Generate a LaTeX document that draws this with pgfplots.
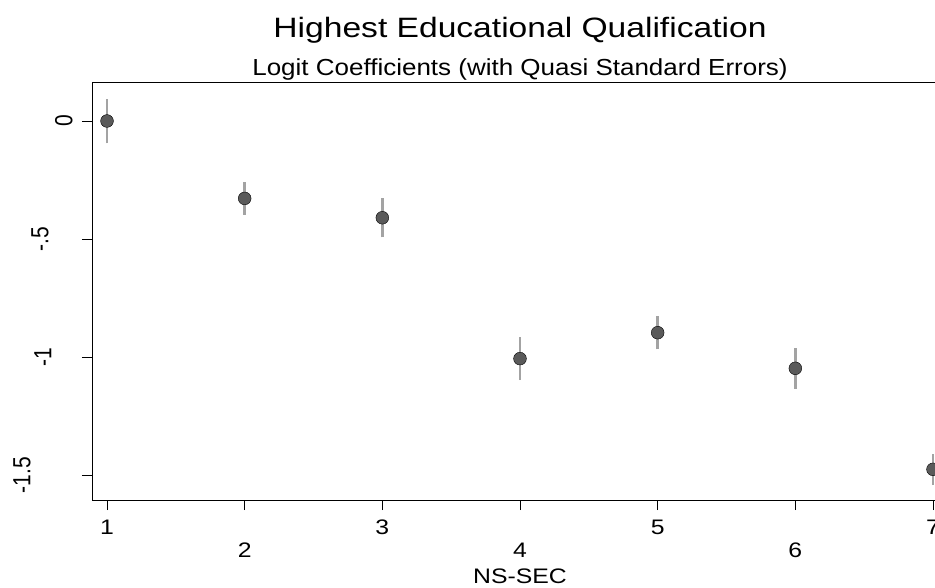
\documentclass[border=0pt]{standalone}
\usepackage{fontspec}
\setmainfont{Liberation Sans}
\newfontfamily\fTitle[FakeStretch=1.2]{Liberation Sans}
\newfontfamily\fSub[FakeStretch=1.12]{Liberation Sans}
\newfontfamily\fTick[FakeStretch=1.18]{Liberation Sans}
\usepackage{pgfplots}
\pgfplotsset{compat=1.18}
\definecolor{markgray}{HTML}{5A5A5A}
\definecolor{bargray}{HTML}{A3A3A3}
\pgfplotstableread{
x y e
1 0 0.095
2 -0.328 0.069
3 -0.410 0.083
4 -1.007 0.091
5 -0.897 0.071
6 -1.048 0.086
7 -1.476 0.067
}\coef
\newcommand{\yl}[2]{\raisebox{#1}[0pt][0pt]{\scalebox{1}[1.18]{#2}}}
\begin{document}
\begin{tikzpicture}
\begin{axis}[
  scale only axis, width=856pt, height=417pt,
  xmin=0.891, xmax=7.109, ymin=-1.606, ymax=0.161,
  axis line style={black, line width=1pt},
  tick align=outside, major tick length=10pt,
  tick style={black, line width=0.8pt},
  xtick pos=bottom, ytick pos=left,
  xtick={1,3,5,7}, xticklabels={1,3,5,7},
  extra x ticks={2,4,6}, extra x tick labels={2,4,6},
  extra x tick style={grid=none, xtick pos=bottom, xticklabel style={yshift=-23pt}},
  xticklabel style={font=\fTick\fontsize{21}{24}\selectfont, inner sep=0pt, yshift=-10pt},
  ytick={0,-0.5,-1,-1.5},
  yticklabels={\yl{9pt}{0},\yl{33pt}{-.5},\yl{30pt}{-1},\yl{51pt}{-1.5}},
  yticklabel style={rotate=90, anchor=south, inner sep=0pt, font=\fontsize{21}{24}\selectfont},
  clip=false,
]
\addplot[only marks, mark=*, mark size=6.4pt, mark options={fill=markgray, draw=none}] table[x=x, y=y] {\coef};
\addplot[bargray, line width=2.4pt] coordinates {(1,-0.095) (1,0.095)};
\addplot[bargray, line width=2.4pt] coordinates {(2,-0.397) (2,-0.259)};
\addplot[bargray, line width=2.4pt] coordinates {(3,-0.493) (3,-0.327)};
\addplot[bargray, line width=2.4pt] coordinates {(4,-1.098) (4,-0.916)};
\addplot[bargray, line width=2.4pt] coordinates {(5,-0.968) (5,-0.826)};
\addplot[bargray, line width=2.4pt] coordinates {(6,-1.134) (6,-0.962)};
\addplot[bargray, line width=2.4pt] coordinates {(7,-1.543) (7,-1.409)};
\coordinate (O) at (rel axis cs:0,0);
\node[anchor=base, yshift=45.7pt, font=\fTitle\fontsize{28}{32}\selectfont] at (rel axis cs:0.5,1) {Highest Educational Qualification};
\node[anchor=base, yshift=7pt, font=\fSub\fontsize{23.2}{26}\selectfont] at (rel axis cs:0.5,1) {Logit Coefficients (with Quasi Standard Errors)};
\node[anchor=base, yshift=-83pt, font=\fTick\fontsize{21}{24}\selectfont] at (rel axis cs:0.5,0) {NS-SEC};
\end{axis}
\pgfresetboundingbox
\path[use as bounding box] (O) ++(-92pt,-87pt) rectangle ++(935pt,587pt);
\end{tikzpicture}
\end{document}
